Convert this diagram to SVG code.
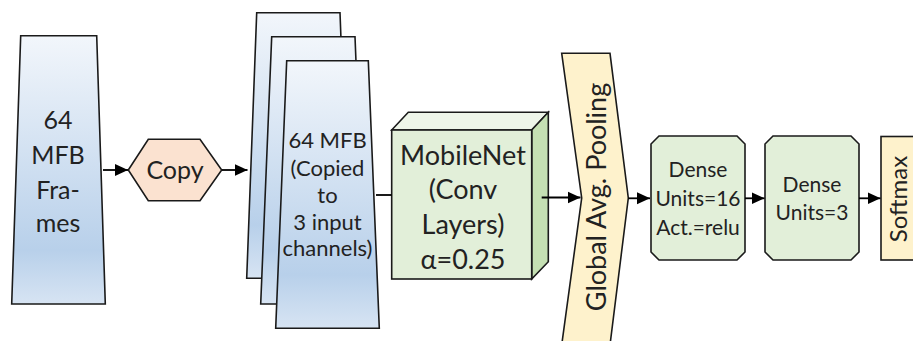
<svg xmlns="http://www.w3.org/2000/svg" width="913" height="341" viewBox="0 0 913 341">
<defs>
<linearGradient id="blue" x1="0" y1="0" x2="0" y2="1">
<stop offset="0" stop-color="#f2f6fb"/>
<stop offset="0.8" stop-color="#b8d0ea"/>
<stop offset="1" stop-color="#d7e4f3"/>
</linearGradient>
<marker id="arr" markerUnits="userSpaceOnUse" markerWidth="14" markerHeight="14" refX="13" refY="7" orient="auto">
<path d="M0,1 L13,7 L0,13 Z" fill="#000"/>
</marker>
<style>
.sh{stroke:#1a1a1a;stroke-width:1.6;stroke-linejoin:miter}
.bl{fill:url(#blue)}
.gr{fill:#e2efd9}
.yl{fill:#fef2cc}
.t{font-family:Lato,"Open Sans",sans-serif;fill:#222;text-anchor:middle}
.c{stroke:#000;stroke-width:1.8;fill:none}
</style>
</defs>
<rect width="913" height="341" fill="#fff"/>
<g id="frames">
<polygon class="sh bl" points="20.7,35.7 96.7,35.7 105.3,304 11.7,304"/>
<text class="t" font-size="25" x="58" y="129">64</text>
<text class="t" font-size="25" x="58" y="164">MFB</text>
<text class="t" font-size="25" x="58" y="199">Fra-</text>
<text class="t" font-size="25" x="58" y="232">mes</text>
</g>
<g id="copy">
<polygon class="sh" fill="#fbe2d0" points="128.3,170 148.3,139.3 200,139.3 221.7,170 200,200.7 148.3,200.7"/>
<text class="t" font-size="25" x="175" y="179">Copy</text>
</g>
<g id="channels">
<polygon class="sh bl" points="256.7,12.7 340,12.7 350,278.3 246.7,278.3"/>
<polygon class="sh bl" points="271.7,36.7 355,36.7 365.7,304 260.7,304"/>
<polygon class="sh bl" points="286.7,60.7 368.3,60.7 379.3,328.3 275.7,328.3"/>
<text class="t" font-size="22" x="327.5" y="148">64 MFB</text>
<text class="t" font-size="22" x="327.5" y="176">(Copied</text>
<text class="t" font-size="22" x="327.5" y="203">to</text>
<text class="t" font-size="22" x="327.5" y="230">3 input</text>
<text class="t" font-size="22" x="327.5" y="256">channels)</text>
</g>
<g id="mobilenet">
<polygon class="sh" fill="#eef5e9" points="391.7,130 408.3,112.3 548.3,112.3 531.7,130"/>
<polygon class="sh" fill="#c5e0b3" points="531.7,130 548.3,112.3 548.3,261.7 531.7,279"/>
<rect class="sh gr" x="391.7" y="130" width="140" height="149"/>
<text class="t" font-size="27" x="463" y="165">MobileNet</text>
<text class="t" font-size="27" x="463" y="199">(Conv</text>
<text class="t" font-size="27" x="463" y="234">Layers)</text>
<text class="t" font-size="27" x="463" y="269">α=0.25</text>
</g>
<g id="gap">
<polygon class="sh yl" points="561.7,53.3 610,53.3 628.3,198 610,345 561.7,345 581.7,198"/>
<text class="t" font-size="27" transform="translate(606,197) rotate(-90)">Global Avg. Pooling</text>
</g>
<g id="dense1">
<polygon class="sh gr" points="659,136 737,136 745,144 745,252 737,260 659,260 651,252 651,144"/>
<text class="t" font-size="21" x="698" y="177">Dense</text>
<text class="t" font-size="21" x="698" y="206">Units=16</text>
<text class="t" font-size="21" x="698" y="235">Act.=relu</text>
</g>
<g id="dense2">
<polygon class="sh gr" points="773,136 851,136 859,144 859,252 851,260 773,260 765,252 765,144"/>
<text class="t" font-size="21" x="812" y="192">Dense</text>
<text class="t" font-size="21" x="812" y="220">Units=3</text>
</g>
<g id="softmax">
<rect class="sh yl" x="881" y="136.5" width="45" height="123.5"/>
<text class="t" font-size="24" transform="translate(907,199) rotate(-90)">Softmax</text>
</g>
<g id="connectors">
<line class="c" x1="103" y1="170" x2="128" y2="170" marker-end="url(#arr)"/>
<line class="c" x1="222" y1="170" x2="247.5" y2="170" marker-end="url(#arr)"/>
<line class="c" x1="376" y1="195" x2="391.7" y2="195"/>
<line class="c" x1="541.7" y1="197.5" x2="580.5" y2="197.5" marker-end="url(#arr)"/>
<line class="c" x1="628.3" y1="198.3" x2="650" y2="198.3" marker-end="url(#arr)"/>
<line class="c" x1="745" y1="198.3" x2="764.5" y2="198.3" marker-end="url(#arr)"/>
<line class="c" x1="859" y1="198.3" x2="880.5" y2="198.3" marker-end="url(#arr)"/>
</g>
</svg>
